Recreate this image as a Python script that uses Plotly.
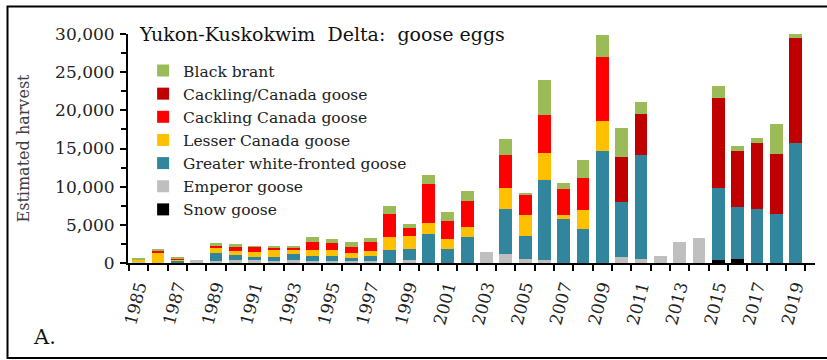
import plotly.graph_objects as go

# Yukon-Kuskokwim Delta: estimated goose egg harvest by species, 1985-2019
years = list(range(1985, 2020))

snow = [0] * 30 + [390, 570, 0, 0, 0]
emperor = [170, 0, 0, 450, 300, 350, 390, 300, 390, 300, 260, 260, 260, 0, 390,
           0, 0, 0, 1400, 1220, 520, 390, 0, 0, 0, 790, 570, 920, 2790, 3230,
           0, 0, 0, 0, 0]
greater_wf = [0, 0, 300, 0, 960, 700, 390, 480, 740, 610, 650, 350, 610, 1700, 1490,
              3750, 1790, 3400, 0, 5900, 3060, 10440, 5760, 4450, 14720, 7200, 13580, 0, 0, 0,
              9430, 6720, 7120, 6460, 15700]
lesser_canada = [260, 1400, 150, 0, 830, 570, 610, 1000, 610, 830, 830, 740, 700, 1660, 1700,
                 1530, 1310, 1350, 0, 2660, 2660, 3540, 520, 2490, 3890, 0, 0, 0, 0, 0,
                 0, 0, 0, 0, 0]
cackling_canada = [0, 175, 200, 0, 175, 520, 740, 220, 350, 1000, 830, 740, 1180, 3060, 1050,
                   5070, 2400, 3360, 0, 4410, 2710, 5020, 3410, 4240, 8380, 0, 0, 0, 0, 0,
                   0, 0, 0, 0, 0]
cackling_or_canada = [0] * 25 + [5900, 5410, 0, 0, 0, 11790, 7420, 8600, 7770, 13800]
black_brant = [170, 175, 150, 0, 300, 300, 50, 130, 170, 650, 520, 610, 480, 1050, 480,
               1180, 1140, 1350, 0, 2050, 170, 4590, 790, 2360, 2880, 3840, 1570, 0, 0, 0,
               1530, 650, 650, 4020, 500]

# bottom of the stack first
series = [
    ("Snow goose", snow, "#000000"),
    ("Emperor goose", emperor, "#BFBFBF"),
    ("Greater white-fronted goose", greater_wf, "#31859C"),
    ("Lesser Canada goose", lesser_canada, "#FFC000"),
    ("Cackling Canada goose", cackling_canada, "#FF0000"),
    ("Cackling/Canada goose", cackling_or_canada, "#C00000"),
    ("Black brant", black_brant, "#9BBB59"),
]

label_years = [y for y in years if y % 2 == 1]
FONT = "DejaVu Serif, Liberation Serif, serif"

fig = go.Figure()
for name, vals, color in series:
    fig.add_trace(go.Bar(x=years, y=vals, name=name, marker_color=color,
                         marker_line_width=0))

fig.update_layout(
    width=827, height=360,
    margin=dict(l=128, r=12, t=34, b=97),
    paper_bgcolor="white", plot_bgcolor="white",
    barmode="stack", bargap=0.34,
    font=dict(family=FONT, size=17, color="#222222"),
    title=dict(text="Yukon-Kuskokwim  Delta:  goose eggs", x=140 / 827,
               xanchor="left", y=1 - 34 / 360, yanchor="middle",
               font=dict(family=FONT, size=19, color="#111111")),
    legend=dict(x=0.022, y=0.913, xanchor="left", yanchor="top",
                traceorder="reversed", bgcolor="rgba(0,0,0,0)",
                font=dict(family=FONT, size=15.5, color="#222222")),
)

fig.update_xaxes(
    range=[1984.45, 2020.0],
    tickmode="array", tickvals=label_years, ticktext=[str(y) for y in label_years],
    ticks="", tickangle=-75, ticklabelstandoff=5,
    minor=dict(tickmode="array", tickvals=[y - 0.5 for y in years + [2020]],
               ticks="outside", ticklen=6, tickwidth=1.5, tickcolor="black"),
    showline=True, linecolor="black", linewidth=2,
    showgrid=False, zeroline=False,
    tickfont=dict(family=FONT, size=17, color="#222222"),
)

fig.update_yaxes(
    range=[0, 30000],
    tickmode="array", tickvals=list(range(0, 30001, 5000)), tickformat=",",
    ticks="outside", ticklen=6, tickwidth=1.5, tickcolor="black",
    ticklabelstandoff=2,
    minor=dict(dtick=2500, ticks="outside", ticklen=5, tickwidth=1.5, tickcolor="black"),
    showline=True, linecolor="black", linewidth=2,
    showgrid=False, zeroline=False,
    tickfont=dict(family=FONT, size=17, color="#222222"),
    title=dict(text="Estimated harvest", standoff=22,
               font=dict(family=FONT, size=16, color="#404040")),
)

fig.add_annotation(text="A.", xref="paper", yref="paper", x=-0.122, y=-0.323,
                   xanchor="center", yanchor="middle",
                   showarrow=False, font=dict(family=FONT, size=21, color="#111111"))

# frame around the whole chart
fig.add_shape(type="rect", xref="paper", yref="paper",
              x0=-0.1754, x1=1.03, y0=-0.415, y1=1.12,
              line=dict(color="black", width=2))

fig.write_html("out.html", config={"displayModeBar": False},
               post_script="document.body.style.margin = '0px';")
